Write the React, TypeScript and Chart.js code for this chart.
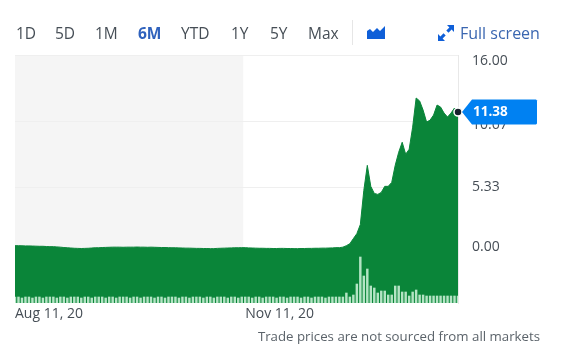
import React, { useEffect, useRef } from "react";
import { Chart, registerables } from "chart.js";

Chart.register(...registerables);

const FONT = '"Open Sans", "Noto Sans", sans-serif';

const rangeLabels = ["1D", "5D", "1M", "6M", "YTD", "1Y", "5Y", "Max"];
const rangeLeft = [16, 55, 95, 138, 181, 231, 270, 308];
const activeRange = "6M";

const dateTickLabels = ["Aug 11, 20", "Nov 11, 20"];
const priceTickLabels = ["0.00", "5.33", "10.67", "16.00"];
const priceGridValues = [0, 5.33, 10.67, 16];
const priceLabelValues = [0, 5.16, 10.49, 16];

const closePrices = [
  0.57, 0.57, 0.56, 0.55, 0.55, 0.54, 0.53, 0.52, 0.52, 0.5,
  0.49, 0.49, 0.47, 0.45, 0.42, 0.4, 0.38, 0.36, 0.35, 0.34,
  0.35, 0.36, 0.38, 0.4, 0.4, 0.42, 0.43, 0.44, 0.45, 0.45,
  0.45, 0.44, 0.45, 0.45, 0.45, 0.46, 0.45, 0.45, 0.44, 0.45,
  0.44, 0.43, 0.42, 0.42, 0.41, 0.4, 0.4, 0.39, 0.38, 0.37,
  0.37, 0.36, 0.35, 0.35, 0.34, 0.34, 0.33, 0.33, 0.35, 0.36,
  0.37, 0.38, 0.39, 0.4, 0.4, 0.41, 0.41, 0.39, 0.38, 0.37,
  0.36, 0.36, 0.35, 0.35, 0.34, 0.34, 0.35, 0.35, 0.34, 0.34,
  0.33, 0.33, 0.34, 0.34, 0.35, 0.35, 0.36, 0.36, 0.37, 0.37, 0.38, 0.39,
  0.41, 0.41, 0.45, 0.57, 0.73, 1.14, 1.54, 2.28, 5.04, 7.07,
  5.37, 4.8, 4.72, 4.88, 5.37, 5.37, 5.69, 7.07, 8.13, 8.94,
  7.97, 8.37, 10.16, 12.52, 12.28, 11.54, 10.57, 10.73, 11.14, 11.95,
  11.79, 11.3, 10.98, 11.3, 11.71, 11.38,
];

const volumes = [
  6, 6, 5, 6, 6, 5, 6, 6, 5, 6, 6, 6, 5, 6, 6, 5, 6, 6, 6, 5, 6, 6, 5,
  6, 6, 6, 5, 6, 6, 5, 6, 6, 6, 5, 6, 6, 5, 6, 6, 6, 5, 6, 6, 5, 6, 6,
  6, 5, 6, 6, 5, 6, 6, 6, 5, 6, 6, 5, 6, 6, 6, 5, 6, 6, 5, 6, 6, 6, 5,
  6, 6, 5, 6, 6, 6, 5, 6, 6, 5, 6, 6, 6, 5, 6, 6, 5, 6, 6, 6, 5, 6, 6,
  6, 6, 6, 10, 6, 8, 19, 46, 27, 34, 17, 15, 10, 12, 12, 8, 8, 17, 17,
  11, 11, 7, 11, 13, 8, 8, 7, 7, 7, 7, 7, 7, 7, 7, 7, 7,
];

const months = ["Jan", "Feb", "Mar", "Apr", "May", "Jun", "Jul", "Aug", "Sep", "Oct", "Nov", "Dec"];
const tradingDays: string[] = [];
for (const d = new Date(2020, 7, 11); tradingDays.length < closePrices.length; d.setDate(d.getDate() + 1)) {
  if (d.getDay() !== 0 && d.getDay() !== 6) {
    tradingDays.push(`${months[d.getMonth()]} ${d.getDate()}, ${String(d.getFullYear()).slice(2)}`);
  }
}

const overlayPlugin = {
  id: "overlay",
  beforeDatasetsDraw(chart: any) {
    const { ctx, chartArea, scales } = chart;
    const left = scales.x.getPixelForValue(0);
    const right = scales.x.getPixelForValue(tradingDays.indexOf(dateTickLabels[1])) - 2;
    ctx.save();
    ctx.fillStyle = "#f5f5f5";
    ctx.fillRect(left, chartArea.top, right - left, chartArea.bottom - chartArea.top);
    ctx.restore();
    // grid lines go above the shaded band
    ctx.save();
    ctx.strokeStyle = "#efefef";
    ctx.lineWidth = 1;
    for (const v of priceGridValues) {
      const y = Math.round(scales.y.getPixelForValue(v)) + 0.5;
      ctx.beginPath();
      ctx.moveTo(chartArea.left, y);
      ctx.lineTo(chartArea.right, y);
      ctx.stroke();
    }
    ctx.restore();
  },
  afterDraw(chart: any) {
    const { ctx, scales } = chart;
    const last = closePrices[closePrices.length - 1];
    const y = scales.y.getPixelForValue(last);
    const tip = 462;
    const body = 472;
    const end = 537;
    const h = 12.5;
    ctx.save();
    ctx.fillStyle = "#0081f2";
    ctx.beginPath();
    ctx.moveTo(tip, y);
    ctx.lineTo(body, y - h);
    ctx.lineTo(end - 1, y - h);
    ctx.lineTo(end, y - h + 1);
    ctx.lineTo(end, y + h - 1);
    ctx.lineTo(end - 1, y + h);
    ctx.lineTo(body, y + h);
    ctx.closePath();
    ctx.fill();
    ctx.fillStyle = "#ffffff";
    ctx.font = `700 13.5px ${FONT}`;
    ctx.textAlign = "left";
    ctx.textBaseline = "middle";
    ctx.fillText(last.toFixed(2), 473, y + 0.5);
    ctx.restore();
  },
};

const textBase: React.CSSProperties = {
  position: "absolute",
  fontFamily: FONT,
  whiteSpace: "nowrap",
  lineHeight: "20px",
};

export default function App() {
  const ref = useRef<HTMLCanvasElement>(null);

  useEffect(() => {
    const chart = new Chart(ref.current as HTMLCanvasElement, {
      data: {
        labels: tradingDays,
        datasets: [
          {
            type: "bar",
            data: volumes,
            yAxisID: "volume",
            backgroundColor: "#b4e4c4",
            barThickness: 1.8,
            order: 1,
          },
          {
            type: "line",
            data: closePrices,
            yAxisID: "y",
            borderColor: "#0a8539",
            borderWidth: 1,
            backgroundColor: "#0a8539",
            fill: "start",
            tension: 0,
            clip: false,
            pointRadius: (c: any) => (c.dataIndex === closePrices.length - 1 ? 4 : 0),
            pointBackgroundColor: "#16202c",
            pointBorderColor: "#ffffff",
            pointBorderWidth: 1.5,
            order: 2,
          },
        ],
      } as any,
      plugins: [overlayPlugin],
      options: {
        animation: false,
        responsive: false,
        layout: { padding: { top: 55, left: 15, right: 0, bottom: 0 } },
        plugins: { legend: { display: false }, tooltip: { enabled: false } },
        scales: {
          x: {
            type: "category",
            offset: false,
            grid: { display: false, drawTicks: false },
            border: { display: false },
            afterFit: (s: any) => {
              s.height = 55;
            },
            ticks: {
              autoSkip: false,
              maxRotation: 0,
              align: "start",
              padding: 3,
              color: "#464e56",
              font: { family: FONT, size: 14 },
              callback(this: any, v: any) {
                const l = this.getLabelForValue(v);
                return dateTickLabels.includes(l) ? l : null;
              },
            },
          },
          y: {
            position: "right",
            min: -4.07,
            max: 16,
            grid: { display: false },
            border: { display: true, color: "#e8e8e8" },
            ticks: { display: false },
            afterBuildTicks: (s: any) => {
              s.ticks = priceGridValues.map((value) => ({ value }));
            },
            afterFit: (s: any) => {
              s.width = 0;
            },
          },
          labels: {
            position: "right",
            min: -4.817,
            max: 16.516,
            grid: { display: false, drawTicks: false },
            border: { display: false },
            afterBuildTicks: (s: any) => {
              s.ticks = priceLabelValues.map((value) => ({ value }));
            },
            afterFit: (s: any) => {
              s.width = 115;
            },
            ticks: {
              padding: 14,
              color: "#464e56",
              font: { family: FONT, size: 14 },
              callback: (v: any) => priceTickLabels[priceLabelValues.indexOf(v)],
            },
          },
          volume: {
            display: false,
            min: 0,
            max: 248,
          },
        },
      } as any,
    });
    return () => chart.destroy();
  }, []);

  return (
    <div style={{ position: "fixed", left: 0, top: 0, width: 573, height: 358, background: "#fff", overflow: "hidden" }}>
      <canvas ref={ref} width={573} height={358} style={{ position: "absolute", left: 0, top: 0, display: "block" }} />
      {rangeLabels.map((label, i) => (
        <span
          key={label}
          style={{
            ...textBase,
            left: rangeLeft[i],
            top: 23,
            fontSize: 15.5,
            fontWeight: label === activeRange ? 700 : 400,
            color: label === activeRange ? "#2f62bd" : "#464e56",
          }}
        >
          {label}
        </span>
      ))}
      <div style={{ position: "absolute", left: 352, top: 20, width: 1, height: 25, background: "#e6e6e6" }} />
      <svg style={{ position: "absolute", left: 367, top: 26 }} width={19} height={14} viewBox="0 0 19 14">
        <path d="M0 5 L3 3 L6 6 L10 2 L13 5 L18 0 V13 H0 Z" fill="#0f5fd8" />
      </svg>
      <svg style={{ position: "absolute", left: 438, top: 25 }} width={16} height={16} viewBox="0 0 16 16">
        <g fill="#0f5fd8">
          <path d="M9 0 H16 V7 L13.6 4.6 L10.5 7.7 L8.3 5.5 L11.4 2.4 Z" />
          <path d="M7 16 H0 V9 L2.4 11.4 L5.5 8.3 L7.7 10.5 L4.6 13.6 Z" />
        </g>
      </svg>
      <span style={{ ...textBase, left: 460, top: 23, fontSize: 16, color: "#3a66b0" }}>Full screen</span>
      <span style={{ ...textBase, right: 33, top: 326, fontSize: 13.25, color: "#5b636a" }}>
        Trade prices are not sourced from all markets
      </span>
    </div>
  );
}
